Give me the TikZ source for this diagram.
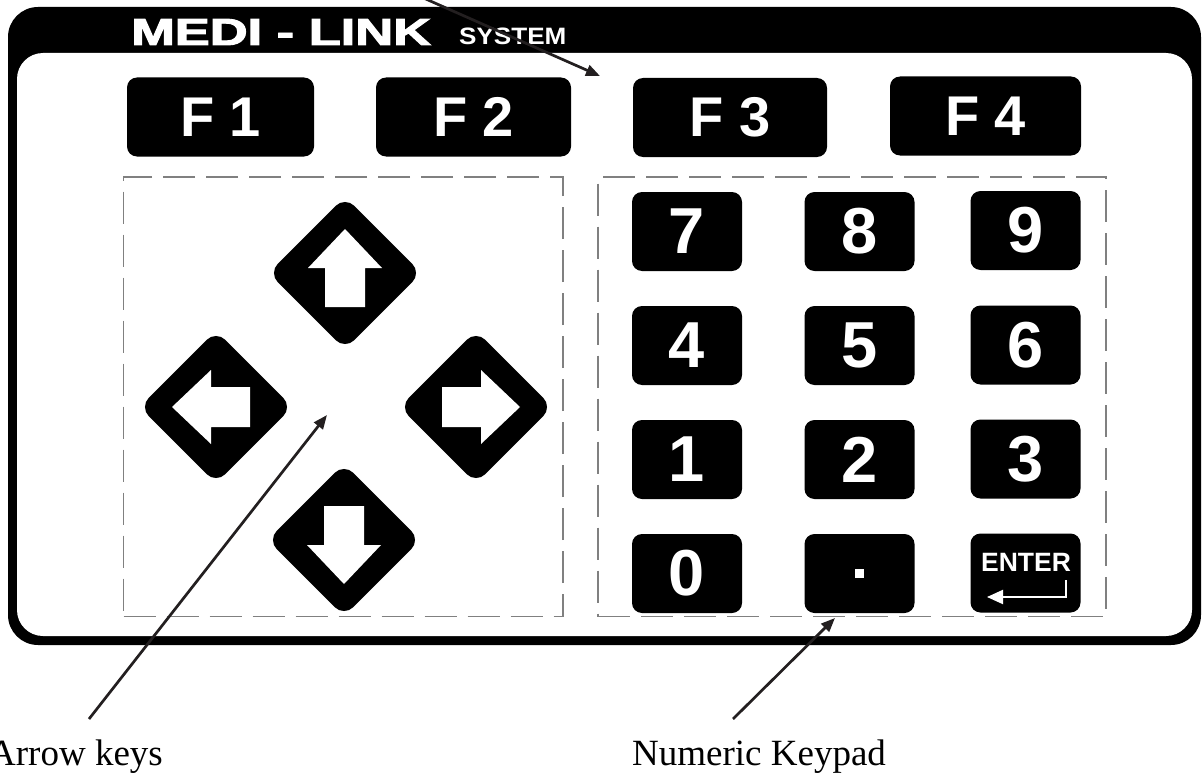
\documentclass[tikz,border=0pt]{standalone}
\usepackage{fontspec}
\setmainfont{Liberation Serif}
\newfontfamily\keyfont{Liberation Sans}
\newfontfamily\titlefont{Liberation Sans}[BoldFeatures={FakeBold=2.5}]
\usetikzlibrary{shapes.geometric,arrows.meta}
\definecolor{ink}{HTML}{231F20}
\definecolor{dashgray}{gray}{0.5}
\tikzset{
  panel/.style={draw=dashgray, line width=1.4pt, dash pattern=on 32pt off 11pt},
  keybox/.style={fill=black, rounded corners=10pt, inner sep=0pt,
     minimum width=110pt, minimum height=79pt, text=white,
     font=\keyfont\bfseries\fontsize{65}{70}\selectfont},
  fkey/.style={keybox, minimum height=79pt,
     font=\keyfont\bfseries\fontsize{56}{60}\selectfont},
  dirkey/.style={diamond, fill=black, rounded corners=13pt, inner sep=0pt,
     minimum width=153pt, minimum height=153pt},
  pointer/.style={draw=ink, line width=2.7pt,
     -{Triangle[length=14pt,width=11pt]}},
  caption/.style={inner sep=0pt, font=\fontsize{37}{40}\selectfont},
  whitearrow/.style={fill=white}
}
\begin{document}
\begin{tikzpicture}[x=1pt,y=-1pt]
\useasboundingbox (0,0) rectangle (1203,776);
% frame
\fill[black, rounded corners=30pt] (8,7) rectangle (1201,645);
\fill[white, rounded corners=26pt] (17,53) rectangle (1192,636);
% title
\node[anchor=base west, inner sep=0pt, text=white,
      font=\titlefont\bfseries\fontsize{37.7}{40}\selectfont] (title) at (131,45)
      {\scalebox{1.39}[1]{MEDI - LINK}};
\node[anchor=base west, inner sep=0pt, text=white,
      font=\keyfont\bfseries\fontsize{23.7}{26}\selectfont] (system) at (459,45)
      {\scalebox{1.1}[1]{SYSTEM}};
% function keys
\node[fkey, minimum width=187pt] (f1) at (220.5,117) {F 1};
\node[fkey, minimum width=195pt] (f2) at (473.5,117) {F 2};
\node[fkey, minimum width=194pt] (f3) at (730,117.5) {F 3};
\node[fkey, minimum width=191pt] (f4) at (985.5,116) {F 4};
% dashed panels
\node[panel, inner sep=0pt, minimum width=439.5pt, minimum height=439.5pt] (arrowpanel) at (343.25,396.75) {};
\node[panel, inner sep=0pt, minimum width=508pt, minimum height=439.5pt] (numpanel) at (852,396.75) {};
% arrow keys
\node[dirkey] (kup) at (345,273) {};
\node[dirkey] (kleft) at (216,407) {};
\node[dirkey] (kright) at (476,407) {};
\node[dirkey] (kdown) at (344,540) {};
\foreach \k/\a in {kup/0,kleft/90,kright/-90,kdown/180}{
  \fill[whitearrow, shift={(\k.center)}, rotate=\a]
    (0,-44) -- (37,-5) -- (20,-5) -- (20,34) -- (-20,34) -- (-20,-5) -- (-37,-5) -- cycle;
}
% numeric keys
\node[keybox] (k7) at (687,231.5) {7};
\node[keybox] (k8) at (859.5,231.5) {8};
\node[keybox] (k9) at (1025.5,230.5) {9};
\node[keybox] (k4) at (687,345.5) {4};
\node[keybox] (k5) at (859.5,345.5) {5};
\node[keybox] (k6) at (1025.5,345) {6};
\node[keybox] (k1) at (687,459.5) {1};
\node[keybox] (k2) at (859.5,459.5) {2};
\node[keybox] (k3) at (1025.5,459) {3};
\node[keybox] (k0) at (687,573.5) {0};
\node[keybox] (kdot) at (859.5,573.5) {};
\node[keybox] (kenter) at (1025.5,573) {};
\fill[white] ([shift={(-4.5,-4.5)}]kdot.center) rectangle ([shift={(4.5,4.5)}]kdot.center);
\node[inner sep=0pt, text=white, font=\keyfont\bfseries\fontsize{26.5}{28}\selectfont]
   (entertxt) at (1026,562.5) {ENTER};
\coordinate (ret1) at (1066,580);
\coordinate (ret2) at (1066,597);
\coordinate (ret3) at (987,597);
\draw[white, line width=2pt, -{Triangle[length=16pt,width=14pt]}] (ret1) -- (ret2) -- (ret3);
% captions and pointers
\node[caption, anchor=base west] (lblarrow) at (-11,765) {Arrow keys};
\node[caption, anchor=base west] (lblnum) at (632,765) {Numeric Keypad};
\coordinate (pa0) at (89,719);
\coordinate (pa1) at (327,415);
\coordinate (pn0) at (733,719);
\coordinate (pn1) at (835,618);
\coordinate (pt0) at (419,-4);
\coordinate (pt1) at (600,76);
\draw[pointer] (pa0) -- (pa1);
\draw[pointer] (pn0) -- (pn1);
\draw[pointer] (pt0) -- (pt1);
\end{tikzpicture}
\end{document}
